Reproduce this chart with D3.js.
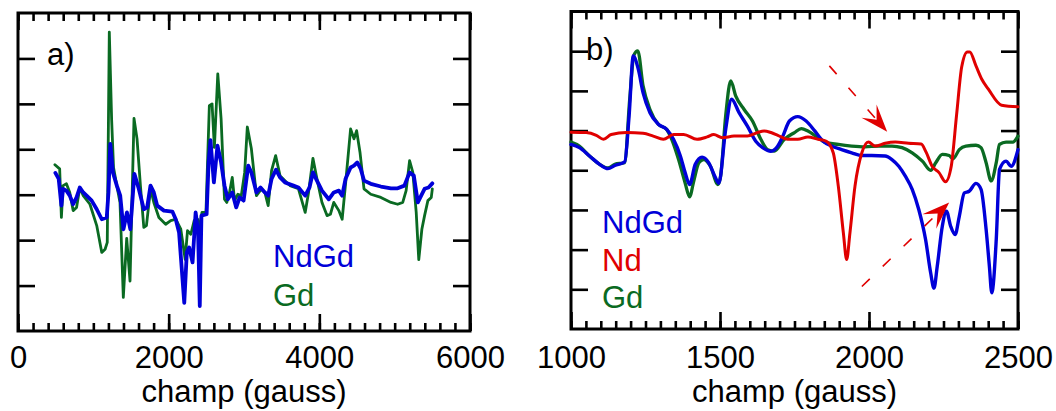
<!DOCTYPE html>
<html><head><meta charset="utf-8">
<script src="https://cdn.jsdelivr.net/npm/d3@7"></script>
<style>body{margin:0;background:#fff}svg text{font-family:"Liberation Sans",Arial,sans-serif}</style>
</head><body><svg id="c" width="1056" height="411"></svg>
<script>
// ---- data (x in gauss, y in arbitrary units) ----
const xTicksA = [0, 2000, 4000, 6000];
const xTicksB = [1000, 1500, 2000, 2500];
const yTicksA = [1, 2, 3, 4, 5, 6];
const yTicksB = [1, 2, 3, 4, 5, 6, 7];

const gdA = [[490,3.66],[553,3.57],[576,2.50],[598,3.20],[643,3.24],[687,3.05],[732,2.65],[777,2.72],[821,3.16],[866,2.98],[955,2.79],[1045,2.32],[1112,1.73],[1156,1.80],[1185,1.95],[1212,6.58],[1243,4.65],[1268,3.60],[1312,3.20],[1354,2.83],[1398,0.74],[1443,2.04],[1487,1.10],[1540,4.68],[1580,4.23],[1625,3.20],[1670,2.28],[1705,2.32],[1759,3.13],[1803,2.83],[1870,2.50],[1960,2.35],[2027,2.43],[2094,2.46],[2161,2.24],[2219,1.58],[2250,2.21],[2294,2.13],[2339,2.43],[2384,2.46],[2406,2.24],[2442,2.61],[2495,2.61],[2540,4.96],[2576,5.00],[2607,4.04],[2652,5.66],[2696,4.67],[2741,2.90],[2772,2.83],[2808,3.05],[2844,3.38],[2875,2.87],[2919,3.01],[2964,2.98],[3009,3.49],[3044,4.49],[3098,4.01],[3165,2.98],[3232,3.13],[3277,3.05],[3321,2.76],[3366,3.53],[3420,3.86],[3478,3.42],[3544,3.31],[3611,3.20],[3723,3.13],[3812,2.61],[3857,3.05],[3915,3.80],[3968,3.35],[4035,2.83],[4102,2.54],[4147,2.57],[4192,2.83],[4259,2.65],[4303,2.46],[4348,3.24],[4415,4.45],[4460,4.23],[4495,4.41],[4540,3.93],[4593,3.13],[4683,3.01],[4817,2.94],[4951,2.83],[5040,2.79],[5107,2.83],[5152,3.09],[5198,3.75],[5241,3.49],[5286,2.61],[5320,1.57],[5361,2.24],[5397,2.54],[5441,2.87],[5486,2.94],[5500,3.13]];

const ndgdA = [[496,3.48],[540,3.35],[576,2.76],[598,3.13],[643,3.09],[687,2.98],[732,2.79],[777,2.94],[821,3.16],[866,3.05],[911,2.98],[978,2.87],[1045,2.68],[1112,2.46],[1178,2.50],[1201,3.05],[1225,4.12],[1260,3.49],[1312,3.20],[1357,2.98],[1400,2.24],[1446,2.61],[1491,2.24],[1545,3.46],[1603,3.13],[1670,2.68],[1714,2.72],[1759,3.20],[1803,3.05],[1848,2.76],[1937,2.65],[2049,2.63],[2094,2.46],[2138,2.17],[2207,0.62],[2241,1.73],[2272,1.84],[2317,1.51],[2358,2.61],[2390,2.20],[2413,0.55],[2435,2.54],[2504,2.57],[2530,3.71],[2555,4.20],[2600,3.27],[2648,4.08],[2696,3.71],[2741,3.20],[2786,2.90],[2844,3.05],[2897,2.72],[2942,2.94],[2995,2.87],[3056,3.64],[3098,3.49],[3165,3.05],[3219,3.16],[3277,3.05],[3321,2.98],[3366,3.35],[3424,3.55],[3478,3.38],[3544,3.27],[3656,3.20],[3723,3.16],[3812,2.98],[3870,3.16],[3915,3.49],[3968,3.31],[4035,3.09],[4125,2.90],[4192,3.05],[4259,3.09],[4303,2.98],[4348,3.35],[4415,3.60],[4460,3.64],[4504,3.71],[4549,3.57],[4593,3.31],[4683,3.24],[4817,3.18],[4951,3.14],[5040,3.14],[5129,3.20],[5198,3.49],[5254,3.42],[5308,2.83],[5352,2.98],[5397,3.13],[5450,3.16],[5500,3.25]];

const gdB = [[1000,4.71],[1028,4.61],[1062,4.36],[1096,4.15],[1124,4.06],[1147,4.15],[1180,4.19],[1197,5.79],[1211,6.90],[1224,7.01],[1242,6.12],[1265,5.53],[1293,5.16],[1321,5.03],[1338,4.78],[1361,4.27],[1383,3.68],[1398,3.33],[1412,3.73],[1429,4.19],[1445,4.27],[1468,4.10],[1493,3.64],[1502,3.85],[1519,5.37],[1536,6.25],[1553,5.87],[1581,5.53],[1609,5.24],[1637,4.78],[1660,4.52],[1682,4.48],[1716,4.78],[1750,4.95],[1773,5.05],[1795,4.99],[1829,4.82],[1851,4.71],[1897,4.65],[1942,4.61],[1987,4.59],[2032,4.61],[2077,4.61],[2111,4.57],[2145,4.44],[2179,4.23],[2207,4.00],[2224,4.19],[2246,4.40],[2269,4.37],[2282,4.29],[2303,4.52],[2325,4.61],[2359,4.63],[2376,4.57],[2393,4.19],[2410,3.73],[2427,4.19],[2438,4.65],[2460,4.71],[2483,4.71],[2500,4.86]];

const ndgdB = [[1000,4.65],[1028,4.57],[1062,4.36],[1096,4.15],[1124,4.04],[1147,4.12],[1180,4.21],[1195,5.37],[1209,6.88],[1226,6.54],[1242,5.95],[1265,5.45],[1293,5.16],[1321,5.03],[1344,4.78],[1367,4.36],[1383,3.94],[1398,3.64],[1417,4.15],[1440,4.33],[1462,4.19],[1485,3.81],[1496,3.67],[1519,5.03],[1539,5.79],[1564,5.45],[1592,5.11],[1620,4.73],[1643,4.57],[1671,4.48],[1694,4.61],[1711,4.86],[1733,5.24],[1761,5.35],[1789,5.24],[1818,4.99],[1846,4.73],[1874,4.61],[1908,4.52],[1942,4.44],[1976,4.37],[2009,4.37],[2054,4.36],[2077,4.27],[2100,4.10],[2122,3.85],[2145,3.52],[2167,3.01],[2190,2.25],[2207,1.41],[2218,1.03],[2229,1.58],[2246,2.59],[2260,2.97],[2274,2.59],[2289,2.38],[2303,2.84],[2320,3.43],[2336,3.47],[2359,3.67],[2376,3.52],[2393,2.51],[2404,1.58],[2412,0.91],[2427,2.25],[2438,4.02],[2460,4.23],[2477,4.10],[2500,4.52]];

const ndB = [[1000,4.96],[1051,4.95],[1085,4.88],[1109,4.78],[1135,4.90],[1186,4.95],[1242,4.93],[1276,4.86],[1310,4.78],[1344,4.90],[1378,4.90],[1423,4.78],[1457,4.84],[1479,4.90],[1508,4.82],[1547,4.86],[1592,4.86],[1626,4.95],[1648,4.99],[1671,4.95],[1694,4.88],[1727,4.78],[1761,4.78],[1795,4.84],[1829,4.78],[1857,4.73],[1880,4.44],[1897,3.60],[1914,2.42],[1925,1.75],[1936,2.42],[1953,3.60],[1976,4.44],[1998,4.71],[2021,4.61],[2054,4.68],[2088,4.71],[2133,4.68],[2175,4.66],[2192,4.45],[2212,4.10],[2235,3.94],[2257,3.71],[2276,4.10],[2294,5.40],[2311,6.60],[2330,6.98],[2338,6.98],[2359,6.63],[2378,6.30],[2400,6.05],[2445,5.64],[2500,5.60]];

const arrowsB = [
  {from: [1867, 6.63], to: [2061, 4.97]},
  {from: [1976, 1.07], to: [2269, 3.19]}
];

const legendA = [{name: "NdGd", key: "NdGd"}, {name: "Gd", key: "Gd"}];
const legendB = [{name: "NdGd", key: "NdGd"}, {name: "Nd", key: "Nd"}, {name: "Gd", key: "Gd"}];

// ---- styles ----
const colors = {NdGd: "#0000d8", Nd: "#e00000", Gd: "#0a6a22"};
const FS = 31;

const svg = d3.select("#c");

function minorTicks(lo, hi, step) {
  const out = [];
  for (let v = lo; v <= hi + 1e-9; v += step) out.push(+v.toFixed(6));
  return out;
}

function panel(cfg) {
  const {x, y, xMajor, xMinor, yTicks, labelPad} = cfg;
  const g = svg.append("g");
  const [x0, x1] = x.range();
  const [yb, yt] = y.range();

  const axes = [
    [d3.axisBottom(x).tickValues(xMinor).tickSize(-8).tickFormat(""), `translate(0,${yb})`],
    [d3.axisTop(x).tickValues(xMinor).tickSize(-8).tickFormat(""), `translate(0,${yt})`],
    [d3.axisTop(x).tickValues(xMajor).tickSize(-17).tickFormat(""), `translate(0,${yt})`],
    [d3.axisLeft(y).tickValues(yTicks).tickSize(-17).tickFormat(""), `translate(${x0},0)`],
    [d3.axisRight(y).tickValues(yTicks).tickSize(-17).tickFormat(""), `translate(${x1},0)`]
  ];
  axes.forEach(([ax, tr]) => {
    const a = g.append("g").attr("transform", tr).call(ax);
    a.select(".domain").remove();
    a.selectAll(".tick line").attr("stroke", "#000").attr("stroke-width", 2.6);
  });
  const bot = g.append("g").attr("transform", `translate(0,${yb})`)
    .call(d3.axisBottom(x).tickValues(xMajor).tickSize(-17).tickPadding(labelPad).tickFormat(d3.format("d")));
  bot.select(".domain").remove();
  bot.selectAll(".tick line").attr("stroke", "#000").attr("stroke-width", 2.6);
  bot.attr("font-size", FS).attr("font-family", null);
  bot.selectAll(".tick text").attr("fill", "#000");

  g.append("text").attr("x", (x0 + x1) / 2).attr("y", 402)
    .attr("text-anchor", "middle").attr("font-size", FS).text("champ (gauss)");

  g.append("rect").attr("x", x0).attr("y", yt).attr("width", x1 - x0).attr("height", yb - yt)
    .attr("fill", "none").attr("stroke", "#000").attr("stroke-width", 3);
  return g;
}

function series(g, x, y, data, color, width, curve) {
  g.append("path").datum(data)
    .attr("d", d3.line().x(d => x(d[0])).y(d => y(d[1])).curve(curve || d3.curveLinear))
    .attr("fill", "none").attr("stroke", color).attr("stroke-width", width)
    .attr("stroke-linejoin", "round").attr("stroke-linecap", "round");
}

// ---- panel a ----
const xA = d3.scaleLinear().domain([0, 6000]).range([18, 470]);
const yA = d3.scaleLinear().domain([0, 7]).range([331, 13]);
const gA = panel({x: xA, y: yA, xMajor: xTicksA, xMinor: minorTicks(0, 6000, 200), yTicks: yTicksA, labelPad: 15});
series(gA, xA, yA, gdA, colors.Gd, 2.8);
series(gA, xA, yA, ndgdA, colors.NdGd, 3.8);
gA.append("text").attr("x", 47).attr("y", 65).attr("font-size", FS).text("a)");
legendA.forEach((d, i) => {
  gA.append("text").attr("x", 273).attr("y", 267 + i * 39).attr("font-size", FS)
    .attr("fill", colors[d.key]).text(d.name);
});

// ---- panel b ----
const xB = d3.scaleLinear().domain([1000, 2500]).range([571, 1018]);
const yB = d3.scaleLinear().domain([0, 8]).range([329, 11.5]);
const gB = panel({x: xB, y: yB, xMajor: xTicksB, xMinor: minorTicks(1000, 2500, 50), yTicks: yTicksB, labelPad: 17});
gB.append("text").attr("x", 586).attr("y", 60).attr("font-size", FS).text("b)");
series(gB, xB, yB, gdB, colors.Gd, 3.3, d3.curveMonotoneX);
series(gB, xB, yB, ndgdB, colors.NdGd, 3.4, d3.curveMonotoneX);
series(gB, xB, yB, ndB, colors.Nd, 3.0, d3.curveMonotoneX);
legendB.forEach((d, i) => {
  gB.append("text").attr("x", 602).attr("y", 233 + i * 37.5).attr("font-size", FS)
    .attr("fill", colors[d.key]).text(d.name);
});

arrowsB.forEach(a => {
  const sx = xB(a.from[0]), sy = yB(a.from[1]);
  const tx = xB(a.to[0]), ty = yB(a.to[1]);
  const L = Math.hypot(tx - sx, ty - sy);
  const ux = (tx - sx) / L, uy = (ty - sy) / L;
  const nx = -uy, ny = ux;
  const HL = 27.5, HW = 10, NOTCH = 16;
  gB.append("line").attr("x1", sx).attr("y1", sy)
    .attr("x2", tx - ux * NOTCH).attr("y2", ty - uy * NOTCH)
    .attr("stroke", colors.Nd).attr("stroke-width", 1.6).attr("stroke-dasharray", "11,18");
  const pts = [
    [tx, ty],
    [tx - ux * HL + nx * HW, ty - uy * HL + ny * HW],
    [tx - ux * NOTCH, ty - uy * NOTCH],
    [tx - ux * HL - nx * HW, ty - uy * HL - ny * HW]
  ];
  gB.append("polygon").attr("points", pts.map(p => p.join(",")).join(" ")).attr("fill", colors.Nd);
});
</script>
</body></html>
